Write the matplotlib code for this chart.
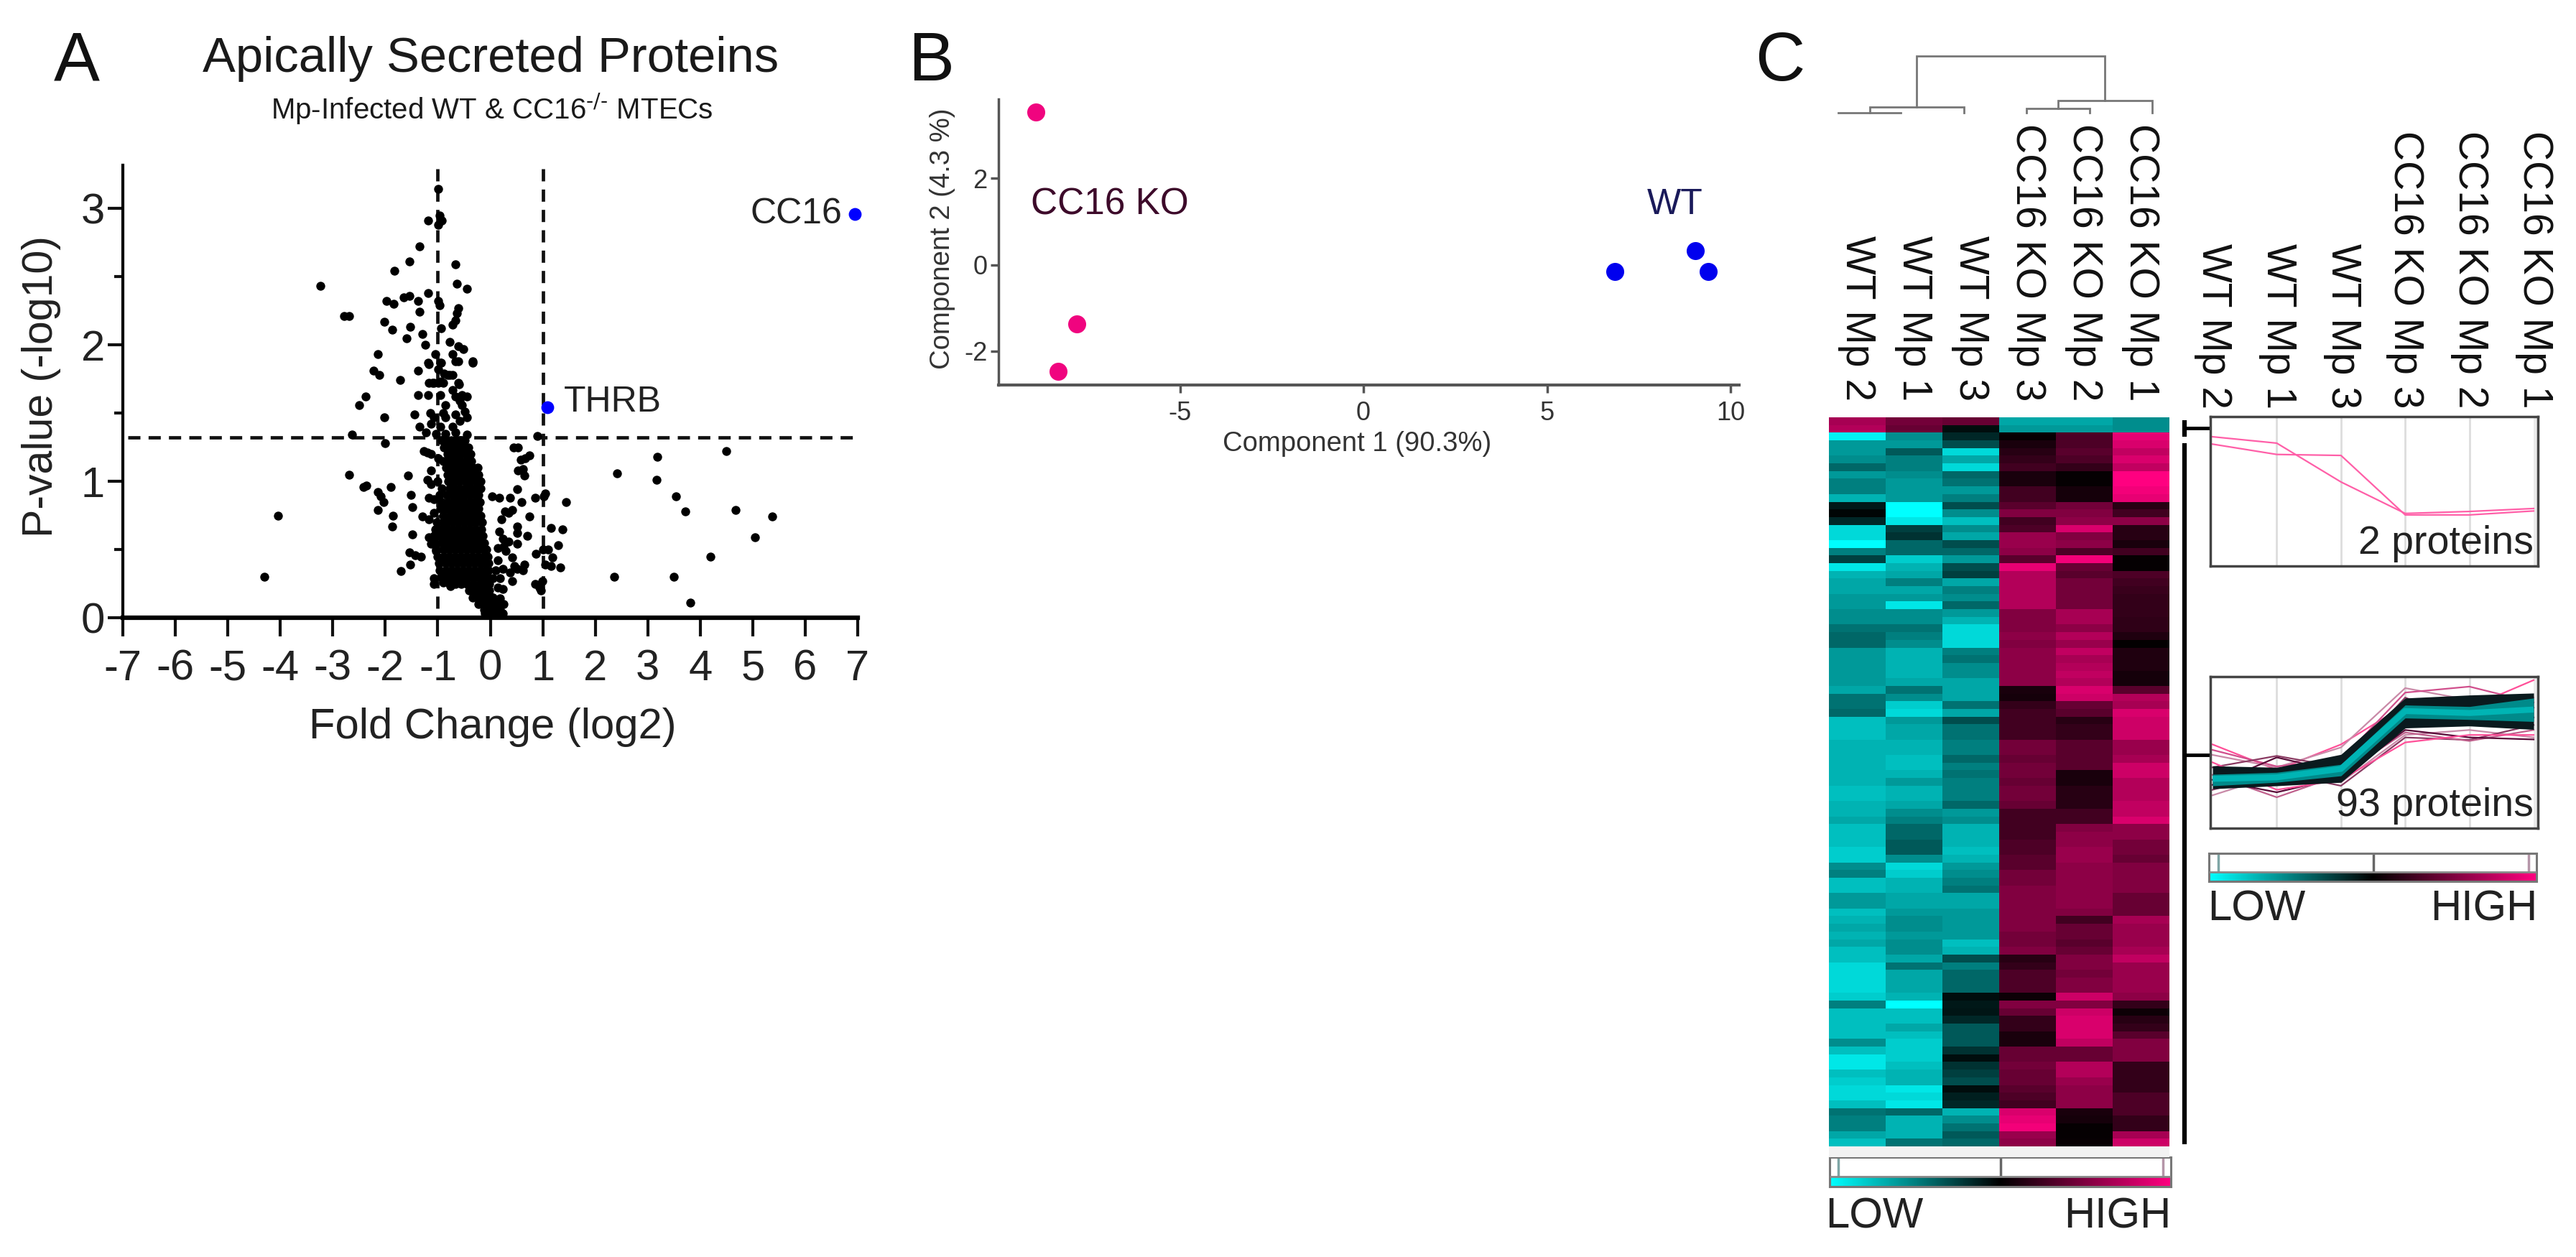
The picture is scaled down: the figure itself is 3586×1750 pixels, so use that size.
import numpy as np
import matplotlib
matplotlib.use("Agg")
import matplotlib.pyplot as plt
from matplotlib.colors import LinearSegmentedColormap

W, H = 3587, 1750
plt.rcParams["font.family"] = ["Liberation Sans", "DejaVu Sans"]
plt.rcParams["mathtext.default"] = "regular"
plt.rcParams["axes.unicode_minus"] = False

# panel A, volcano plot: single points first
fold_change = [
    -4.30, -4.04, -3.23, -2.79, -2.69, -2.69, -2.63, -2.50, -2.38, -2.41, -2.36, -2.23, -2.11, -2.14, -2.14, -2.09,
    -2.03, -2.14, -2.02, -2.01, -2.02, -1.98, -1.84, -1.87, -1.90, -1.86, -1.87, -1.83, -1.72, -1.71, -1.65, -1.59,
    -1.57, -1.54, -1.54, -1.52, -1.51, -1.48, -1.48, -1.54, -1.43, -1.32, -1.52, -1.45, -1.38, -1.38, -1.35, -1.38,
    -1.35, -1.29, -1.24, -1.18, -1.18, -1.18, -1.18, -1.14, -0.99, -0.96, -0.92, -0.99, -0.99, -0.96, -0.94, -0.66,
    -0.63, -0.61, -0.63, -0.67, -0.72, -0.45, -0.78, -0.61, -0.52, -0.34, -0.72, -0.61, -1.05, -0.94, -0.88, -0.78,
    -1.10, -0.94, -0.72, -0.61,
    2.41, 3.18, 3.17, 3.54, 3.71, 4.50, 4.67, 5.37, 5.04, 4.19, 2.36, 3.50, 3.81,
    0.44, 0.53, 0.58, 0.67, 0.74, 0.53, 0.62, 0.65, 0.51, 0.03, 0.17, 0.37, 0.60, 0.85, 1.05, 1.02, 1.44, 0.28, 0.42,
    0.35, 0.21, 0.75, 0.51, 0.52, 0.17, 0.71, 1.15, 1.38, 0.24, 0.35, 0.51, 0.15, 0.26, 1.30, 0.87, 1.01, 1.10, 1.19,
    1.05, 1.15, 1.34, 0.30, 0.42, 0.46, 0.65, 0.62, 0.51, 0.15, 0.10, 0.24, 0.37, 0.05, 0.19, 0.42, 0.15, 0.24, 0.05,
    0.19, 0.26, 0.10, 0.24, 0.01, 0.85, 0.94, 0.97, 0.99, 0.90,
    -1.35, -1.26, -1.13, -0.99, -1.20, -1.13, -1.20, -1.13, -1.17, -1.08, -1.29, -1.08, -1.17, -1.17, -1.13, -1.04,
    -1.08, -1.08, -0.90, -0.76,
    -1.17, -0.95, -0.67, -0.33, -0.99, -0.81, -0.72, -1.17, -1.08, -0.99, -0.90, -0.60, -0.95, -0.67, -0.54, -0.45,
    -1.08, -0.90, -0.49, -0.58, -0.85, -1.13, -0.95, -0.72, -0.45, -1.22, -1.04, -0.85, -0.67, -0.45, -0.67, -0.58,
    -0.85, -0.54,
]
p_value = [
    0.30, 0.75, 2.43, 2.21, 2.21, 1.05, 1.34, 1.56, 1.62, 0.96, 0.97, 1.81, 1.78, 1.93, 0.92, 0.89,
    0.85, 0.79, 1.47, 1.28, 2.17, 2.32, 2.30, 2.11, 0.96, 0.75, 0.67, 2.54, 1.74, 0.34, 2.35, 2.05,
    1.04, 2.61, 2.36, 2.13, 0.90, 0.81, 0.61, 0.48, 0.46, 0.45, 0.39, 1.49, 1.81, 1.63, 2.72, 2.32,
    2.24, 2.08, 2.00, 2.91, 2.38, 1.87, 1.63, 1.50, 3.14, 2.95, 2.91, 2.88, 2.32, 2.29, 2.12, 2.59,
    2.45, 2.27, 2.23, 2.18, 2.15, 2.41, 2.02, 1.99, 1.97, 1.88, 1.93, 1.88, 1.93, 1.87, 1.79, 1.78,
    1.72, 1.73, 1.67, 1.72,
    1.06, 1.18, 1.01, 0.89, 0.78, 1.22, 0.79, 0.74, 0.59, 0.45, 0.30, 0.30, 0.11,
    1.25, 1.25, 1.16, 1.17, 1.19, 1.08, 1.09, 1.04, 0.94, 0.89, 0.88, 0.88, 0.85, 0.88, 0.91, 0.89, 0.85, 0.78, 0.79,
    0.77, 0.72, 0.74, 0.67, 0.62, 0.63, 0.60, 0.66, 0.65, 0.58, 0.56, 0.54, 0.51, 0.52, 0.53, 0.47, 0.50, 0.50, 0.44,
    0.39, 0.38, 0.37, 0.49, 0.44, 0.38, 0.39, 0.35, 0.36, 0.42, 0.35, 0.36, 0.33, 0.29, 0.29, 0.27, 0.22, 0.21, 0.15,
    0.14, 0.10, 0.07, 0.03, 0.03, 0.25, 0.22, 0.20, 0.27, 1.33,
    1.40, 1.22, 1.20, 1.17, 1.21, 1.08, 1.01, 0.98, 0.88, 0.87, 0.74, 0.77, 0.72, 0.59, 0.54, 0.49,
    0.29, 0.25, 0.26, 0.23,
    1.86, 1.87, 1.88, 1.87, 1.82, 1.78, 1.78, 1.72, 1.72, 1.72, 1.72, 1.71, 1.63, 1.62, 1.63, 1.62,
    1.47, 1.50, 1.51, 1.59, 1.56, 1.42, 1.40, 1.40, 1.47, 1.36, 1.35, 1.35, 1.36, 1.34, 1.49, 1.44,
    1.47, 1.56,
]
# dense core of the volcano, one row of fold changes per p-value level
core_p = [1.30, 1.25, 1.20, 1.15, 1.10, 1.05, 1.00, 0.95, 0.90, 0.85, 0.80, 0.75, 0.70, 0.65, 0.60, 0.55, 0.50, 0.45,
          0.40, 0.35, 0.30, 0.25, 0.20, 0.15, 0.10, 0.06, 0.03]
core_fc = [
    [-0.93, -0.84, -0.75, -0.66, -0.57, -0.48],
    [-0.88, -0.80, -0.70, -0.61, -0.52, -0.42],
    [-0.82, -0.72, -0.63, -0.55, -0.44, -0.37],
    [-0.90, -0.78, -0.68, -0.58, -0.47, -0.36],
    [-0.84, -0.76, -0.65, -0.55, -0.45, -0.34, -0.24],
    [-0.82, -0.71, -0.60, -0.50, -0.40, -0.30, -0.22],
    [-1.00, -0.80, -0.70, -0.60, -0.49, -0.39, -0.28, -0.18],
    [-0.93, -0.78, -0.68, -0.58, -0.47, -0.36, -0.26, -0.19],
    [-0.96, -0.83, -0.72, -0.62, -0.51, -0.41, -0.30, -0.22],
    [-0.92, -0.80, -0.69, -0.58, -0.48, -0.37, -0.27, -0.20],
    [-0.95, -0.84, -0.73, -0.63, -0.52, -0.42, -0.31, -0.22],
    [-0.90, -0.78, -0.67, -0.56, -0.46, -0.35, -0.25, -0.18],
    [-1.02, -0.90, -0.80, -0.70, -0.60, -0.49, -0.38, -0.27, -0.16],
    [-1.05, -0.94, -0.83, -0.72, -0.62, -0.51, -0.40, -0.29, -0.17],
    [-1.08, -0.96, -0.85, -0.74, -0.64, -0.53, -0.42, -0.31, -0.20, -0.14],
    [-1.06, -0.93, -0.82, -0.71, -0.60, -0.49, -0.38, -0.27, -0.16, -0.12],
    [-1.03, -0.90, -0.79, -0.68, -0.57, -0.46, -0.35, -0.24, -0.13, -0.08],
    [-1.00, -0.88, -0.77, -0.66, -0.55, -0.44, -0.33, -0.22, -0.12, -0.05],
    [-0.98, -0.86, -0.75, -0.64, -0.53, -0.42, -0.31, -0.20, -0.10, -0.04],
    [-0.96, -0.84, -0.73, -0.62, -0.51, -0.40, -0.29, -0.18, -0.09, -0.03],
    [-0.94, -0.82, -0.71, -0.60, -0.48, -0.37, -0.26, -0.15, -0.05],
    [-0.78, -0.66, -0.55, -0.44, -0.32, -0.20, -0.10, -0.02],
    [-0.40, -0.30, -0.20, -0.10, -0.02],
    [-0.34, -0.24, -0.14, -0.04, 0.05],
    [-0.22, -0.12, -0.03, 0.07, 0.16],
    [-0.12, -0.03, 0.07, 0.18],
    [-0.10, 0.00, 0.09, 0.19],
]
hit_fc = [1.09, 6.94]
hit_p = [1.54, 2.96]

# panel B, PCA
ko_pc1 = [-8.93, -7.81, -8.32]
ko_pc2 = [3.54, -1.37, -2.48]
wt_pc1 = [6.84, 9.04, 9.39]
wt_pc2 = [-0.16, 0.32, -0.16]

# panel C, heatmap columns, top row first
samples = ["WT Mp 2", "WT Mp 1", "WT Mp 3", "CC16 KO Mp 3", "CC16 KO Mp 2", "CC16 KO Mp 1"]
wt_mp2 = [
    .65, .70,
    -.95, -.60, -.60, -.55, -.40, -.60, -.50, -.50, -.70, -.10,
    -.02, -.15, -.85, -.85, -1.0, -.50, -.25, -.90, -.70, -.65,
    -.65, -.60, -.60, -.55, -.55, -.45, -.40, -.40, -.60, -.60,
    -.60, -.60, -.60, -.65, -.45, -.45, -.40, -.75, -.75, -.75,
    -.70, -.70, -.70, -.70, -.70, -.70, -.75, -.75, -.70, -.70,
    -.65, -.75, -.75, -.75, -.80, -.80,
    -.55, -.50, -.75, -.75, -.60, -.60, -.75, -.70, -.65, -.70,
    -.65, -.75, -.75, -.85, -.85, -.85, -.85, -.80, -.50, -.75,
    -.75, -.75, -.75, -.55, -.75, -.90, -.90, -.75, -.80, -.85,
    -.85, -.75, -.45, -.50, -.50, -.65, -.75,
]
wt_mp1 = [
    .45, .40,
    -.55, -.60, -.35, -.50, -.50, -.55, -.60, -.60, -.60, -1.0,
    -1.0, -.90, -.25, -.20, -.40, -.40, -.80, -.70, -.65, -.50,
    -.65, -.60, -.90, -.55, -.55, -.45, -.50, -.55, -.70, -.70,
    -.70, -.70, -.65, -.45, -.55, -.80, -.85, -.60, -.65, -.65,
    -.70, -.70, -.75, -.75, -.70, -.60, -.70, -.70, -.65, -.55,
    -.50, -.40, -.40, -.35, -.35, -.55,
    -.85, -.80, -.70, -.70, -.65, -.65, -.60, -.55, -.55, -.60,
    -.55, -.55, -.65, -.45, -.65, -.65, -.65, -.70, -1.0, -.75,
    -.75, -.65, -.75, -.80, -.80, -.80, -.75, -.70, -.70, -.90,
    -.85, -.90, -.40, -.70, -.70, -.70, -.45,
]
wt_mp3 = [
    .40, -.05,
    -.15, -.30, -.85, -.65, -.85, -.40, -.45, -.60, -.50, -.30,
    -.55, -.75, -.55, -.65, -.30, -.40, -.60, -.30, -.25, -.65,
    -.50, -.55, -.40, -.60, -.70, -.85, -.85, -.85, -.50, -.45,
    -.55, -.55, -.65, -.65, -.65, -.45, -.65, -.30, -.45, -.45,
    -.50, -.50, -.40, -.50, -.45, -.50, -.50, -.50, -.40, -.60,
    -.55, -.70, -.70, -.70, -.75, -.70,
    -.60, -.55, -.50, -.45, -.65, -.65, -.60, -.60, -.60, -.60,
    -.75, -.70, -.30, -.50, -.40, -.40, -.40, -.05, -.10, -.08,
    -.15, -.35, -.35, -.35, -.20, -.05, -.20, -.25, -.30, -.05,
    -.12, -.15, -.70, -.55, -.45, -.35, -.40,
]
ko_mp3 = [
    -.65, -.60,
    .03, .10, .15, .20, .25, .10, .10, .25, .25, .35,
    .50, .25, .30, .60, .60, .55, .35, .90, .70, .70,
    .70, .70, .70, .50, .50, .50, .55, .50, .55, .55,
    .55, .55, .55, .10, .08, .20, .25, .25, .25, .25,
    .45, .45, .40, .45, .45, .40, .45, .45, .40, .25,
    .25, .25, .25, .30, .30, .35,
    .35, .45, .45, .50, .50, .50, .50, .50, .50, .45,
    .45, .50, .15, .20, .30, .30, .30, .05, .50, .40,
    .20, .20, .10, .10, .40, .40, .45, .40, .40, .35,
    .30, .25, .85, .90, .95, .60, .55,
]
ko_mp2 = [
    -.65, -.60,
    .30, .30, .35, .30, .20, .02, .02, .08, .08, .45,
    .50, .55, .85, .50, .55, .30, .95, .40, .35, .45,
    .45, .45, .45, .65, .65, .55, .70, .60, .75, .65,
    .70, .75, .70, .85, .80, .40, .35, .15, .20, .20,
    .35, .35, .35, .35, .10, .10, .15, .15, .15, .25,
    .25, .50, .55, .55, .60, .60,
    .55, .55, .55, .55, .55, .55, .50, .25, .40, .40,
    .35, .40, .50, .50, .45, .50, .50, .80, .50, .80,
    .85, .85, .85, .75, .40, .40, .70, .70, .60, .55,
    .55, .55, .10, .08, .02, .02, .03,
]
ko_mp1 = [
    -.55, -.55,
    .90, .85, .75, .85, .75, 1.0, 1.0, .95, .90, .15,
    .25, .55, .15, .15, .10, .25, .02, .02, .30, .25,
    .22, .20, .20, .20, .18, .18, .12, .01, .12, .12,
    .12, .08, .08, .35, .70, .65, .85, .80, .80, .80,
    .60, .60, .65, .80, .80, .70, .70, .70, .75, .75,
    .85, .55, .55, .45, .45, .40,
    .50, .50, .50, .50, .40, .40, .40, .65, .60, .60,
    .60, .65, .75, .60, .60, .60, .60, .55, .20, .05,
    .15, .20, .35, .50, .50, .50, .20, .20, .20, .20,
    .30, .30, .30, .20, .20, .65, .80,
]

# dendrogram merges: left x, right x, left child height, right child height, merge height
merge_left = [0, 0.5, 3, 3.5, 1.25]
merge_right = [1, 2, 4, 5, 4.25]
merge_h0 = [0, 0, 0, 0.076, 0.105]
merge_h1 = [0, 0, 0, 0, 0.215]
merge_h = [0, 0.105, 0.076, 0.215, 1.0]

# profile panels
profile_a = [1.11, 0.98, 0.19, -0.45, -0.41, -0.35]
profile_b = [0.96, 0.75, 0.73, -0.48, -0.48, -0.40]
cluster_mean = [-0.53, -0.50, -0.33, 0.83, 0.79, 0.86]
dark_top = [-0.27, -0.30, -0.04, 1.09, 1.15, 1.19]
dark_bottom = [-0.73, -0.67, -0.60, 0.49, 0.53, 0.46]
teal_top = [-0.44, -0.40, -0.24, 0.95, 0.92, 1.09]
teal_bottom = [-0.67, -0.60, -0.47, 0.69, 0.66, 0.62]
outlier_lines = [
    [0.16, -0.35, 0.16, 0.95, 0.90, 1.45],
    [-0.05, -0.30, 0.10, 1.29, 1.05, 1.10],
    [0.05, -0.28, -0.15, 1.20, 1.32, 1.00],
    [-0.30, -0.07, -0.30, 1.10, 0.60, 0.90],
    [-0.65, -0.10, -0.40, 0.90, 0.75, 0.70],
    [-0.86, -0.45, -0.60, 0.35, 0.45, 0.30],
    [-0.75, -0.40, -0.67, 0.30, 0.25, 0.55],
    [-0.45, -0.90, -0.45, 0.40, 0.23, 0.45],
    [-0.55, -0.80, -0.50, 0.45, 0.30, 0.26],
    [-0.20, -0.75, -0.55, 0.20, 0.35, 0.35],
]
outlier_colors = ["#ff4f98", "#c98aa8", "#d04f8c", "#8a3a62", "#5a0a38", "#c98aa8", "#8a3a62", "#c0608c", "#5a0a38", "#ff4f98"]

hm = np.array([wt_mp2, wt_mp1, wt_mp3, ko_mp3, ko_mp2, ko_mp1]).T
heat_cmap = LinearSegmentedColormap.from_list("heat", ["#00ffff", "#000000", "#ff0080"])


def box(x0, y0, x1, y1):
    # pixel rectangle of the reference to axes
    return fig.add_axes([x0 / W, 1 - y1 / H, (x1 - x0) / W, (y1 - y0) / H])


def label(x, y, s, **kw):
    fig.text(x / W, 1 - y / H, s, **kw)


fig = plt.figure(figsize=(W / 100, H / 100), dpi=100, facecolor="white")

label(75, 112, "A", fontsize=69, va="baseline", color="#111111")
label(1264, 112, "B", fontsize=69, va="baseline", color="#111111")
label(2443, 112, "C", fontsize=69, va="baseline", color="#111111")
label(683, 100, "Apically Secreted Proteins", fontsize=49.5, ha="center", va="baseline", color="#1a1a1a")
label(685, 166, r"Mp-Infected WT & CC16$^{\text{-/-}}$ MTECs", fontsize=29, ha="center", va="baseline", color="#1a1a1a")

# A
ax = box(171, 230, 1194, 860)
ax.set_xlim(-7, 7)
ax.set_ylim(0, 3.316)
ax.hlines(1.32, -6.9, 6.92, color="#111111", lw=3.4, linestyles=(0, (3.6, 2.4)), zorder=1)
ax.vlines([-1, 1], 0.07, 3.30, color="#111111", lw=3.4, linestyles=(0, (3.6, 2.4)), zorder=1)
ax.scatter(fold_change, p_value, s=80, color="black", linewidths=0, zorder=3, clip_on=False)
for lev, row in zip(core_p, core_fc):
    ax.scatter(row, [lev] * len(row), s=80, color="black", linewidths=0, zorder=3, clip_on=False)
ax.scatter(hit_fc, hit_p, s=165, color="#0000ff", linewidths=0, zorder=4, clip_on=False)
ax.text(6.70, 2.96, "CC16", fontsize=36, ha="right", va="center", color="#222222")
ax.text(1.40, 1.58, "THRB", fontsize=36, ha="left", va="center", color="#222222")
ax.set_xticks(np.arange(-7, 8))
ax.set_yticks([0, 1, 2, 3])
ax.set_yticks([0.5, 1.5, 2.5], minor=True)
ax.tick_params(axis="x", length=18.5, width=3, labelsize=43, pad=13, color="#111111", labelcolor="#222222")
ax.tick_params(axis="y", which="major", length=15, width=3, labelsize=43, pad=3, color="#111111", labelcolor="#222222")
ax.tick_params(axis="y", which="minor", length=8.5, width=3, color="#111111")
ax.spines["top"].set_visible(False)
ax.spines["right"].set_visible(False)
ax.spines["left"].set_linewidth(3)
ax.spines["bottom"].set_linewidth(4.5)
ax.patch.set_visible(False)
label(686, 1028, "Fold Change (log2)", fontsize=43, ha="center", va="baseline", color="#222222")
label(58, 538, "P-value (-log10)", fontsize=42.5, rotation=90, ha="center", va="center", color="#222222")

# B
ax = box(1390, 138, 2421, 536)
ax.set_xlim(-9.94, 10.23)
ax.set_ylim(-2.79, 3.84)
ax.scatter(ko_pc1, ko_pc2, s=325, color="#f0047f", linewidths=0, zorder=3)
ax.scatter(wt_pc1, wt_pc2, s=325, color="#0000ee", linewidths=0, zorder=3)
ax.set_xticks([-5, 0, 5, 10])
ax.set_yticks([-2, 0, 2])
ax.tick_params(axis="both", length=8, width=2.5, labelsize=26, pad=8, color="#555555", labelcolor="#333333")
ax.tick_params(axis="y", pad=3)
ax.spines["top"].set_visible(False)
ax.spines["right"].set_visible(False)
ax.spines["left"].set_linewidth(2.5)
ax.spines["bottom"].set_linewidth(3)
ax.spines["left"].set_color("#555555")
ax.spines["bottom"].set_color("#555555")
ax.patch.set_visible(False)
label(1435, 285, "CC16 KO", fontsize=37, ha="left", va="center", color="#3d0a2a")
label(2293, 285, "WT", fontsize=36, ha="left", va="center", color="#1a1a5a")
label(1889, 618, "Component 1 (90.3%)", fontsize=27.5, ha="center", va="center", color="#333333")
label(1312, 332, "Component 2 (4.3 %)", fontsize=27.5, rotation=90, ha="center", va="center", color="#333333")

# C, dendrogram
ax = box(2559, 78, 2996, 157)
ax.set_xlim(0, 5)
ax.set_ylim(0, 1)
for x0, x1, h0, h1, h in zip(merge_left, merge_right, merge_h0, merge_h1, merge_h):
    ax.plot([x0, x0, x1, x1], [h0, h, h, h1], color="#777777", lw=2, clip_on=False, solid_joinstyle="miter")
ax.axis("off")

# C, heatmap
ax = box(2546, 581, 3020, 1596)
ax.imshow(hm, cmap=heat_cmap, vmin=-1, vmax=1, aspect="auto", interpolation="nearest")
ax.axis("off")
column_x = [2585, 2664, 2743, 2822, 2901, 2980]
for x, s in zip(column_x, samples):
    label(x, 558, s, fontsize=41, rotation=270, ha="center", va="bottom", color="#111111")

# same labels over the profile panels
profile_x = [3080, 3170, 3260, 3347, 3437, 3527]
for x, s in zip(profile_x, samples):
    label(x + 1, 569, s, fontsize=41, rotation=270, ha="center", va="bottom", color="#111111")

# C, brackets
ax = box(3030, 581, 3080, 1596)
ax.set_xlim(0, 50)
ax.set_ylim(1015, 0)
ax.plot([11, 11], [4, 27], color="black", lw=4.5, solid_capstyle="butt")
ax.plot([11, 47], [15, 15], color="black", lw=3.5, solid_capstyle="butt")
ax.plot([11, 11], [36, 1012], color="black", lw=4.5, solid_capstyle="butt")
ax.plot([11, 47], [470, 470], color="black", lw=3.5, solid_capstyle="butt")
ax.axis("off")

# C, profile boxes
ax1 = box(3077, 580, 3533, 788)
ax2 = box(3077, 942, 3533, 1153)
for a in [ax1, ax2]:
    a.set_xlim(-0.034, 5.067)
    a.set_ylim(-1.52, 1.52)
    a.axvspan(5, 5.067, color="#ebebeb", lw=0, zorder=0)
    a.vlines([1, 2, 3, 4], -1.52, 1.52, color="#dddddd", lw=2, zorder=0)
    a.set_xticks([])
    a.set_yticks([])
    for sp in a.spines.values():
        sp.set_linewidth(2.5)
        sp.set_color("#444444")

ax1.plot(range(6), profile_a, color="#ff5fa8", lw=1.6)
ax1.plot(range(6), profile_b, color="#ff5fa8", lw=1.6)
ax1.text(5, -1.27, "2 proteins", fontsize=40, ha="right", va="baseline", color="#222222")

for row, c in zip(outlier_lines, outlier_colors):
    ax2.plot(range(6), row, color=c, lw=1.6, zorder=2)
ax2.fill_between(range(6), dark_bottom, dark_top, color="#0a1a1e", lw=0, zorder=3)
ax2.fill_between(range(6), teal_bottom, teal_top, color="#008a8a", lw=0, zorder=4)
ax2.plot(range(6), cluster_mean, color="#00b4b4", lw=6, zorder=5, solid_capstyle="butt")
ax2.text(5, -1.28, "93 proteins", fontsize=40, ha="right", va="baseline", color="#222222", zorder=6)

# C, color bars
for (x0, y0, x1, y1, gy, ticks) in [
    (2547, 1611, 3022, 1652, 1638, [2559, 2785, 3011]),
    (3075, 1188, 3531, 1227, 1214, [3088, 3304, 3520]),
]:
    a = box(x0, y0, x1, y1)
    a.imshow(np.linspace(-1, 1, 256).reshape(1, -1), cmap=heat_cmap, aspect="auto",
             extent=[x0, x1, y1, gy], zorder=2)
    a.set_xlim(x0, x1)
    a.set_ylim(y1, y0)
    a.vlines(ticks[0], y0, gy, color="#7fa5a5", lw=2.5)
    a.vlines(ticks[1], y0, gy, color="#666666", lw=2.5)
    a.vlines(ticks[2], y0, gy, color="#b595a8", lw=2.5)
    a.hlines(gy, x0, x1, color="#888888", lw=2, zorder=3)
    a.set_xticks([])
    a.set_yticks([])
    for sp in a.spines.values():
        sp.set_linewidth(2.2)
        sp.set_color("#777777")

# light strip under the heatmap
strip = box(2546, 1596, 3020, 1611)
strip.axis("off")
strip.add_patch(plt.Rectangle((0, 0), 1, 1, transform=strip.transAxes, color="#f2f2f2", lw=0))

label(2541, 1709, "LOW", fontsize=43, ha="left", va="baseline", color="#222222")
label(3022, 1709, "HIGH", fontsize=43, ha="right", va="baseline", color="#222222")
label(3073, 1282, "LOW", fontsize=43, ha="left", va="baseline", color="#222222")
label(3532, 1282, "HIGH", fontsize=43, ha="right", va="baseline", color="#222222")

fig.savefig("out.png", dpi=100)
